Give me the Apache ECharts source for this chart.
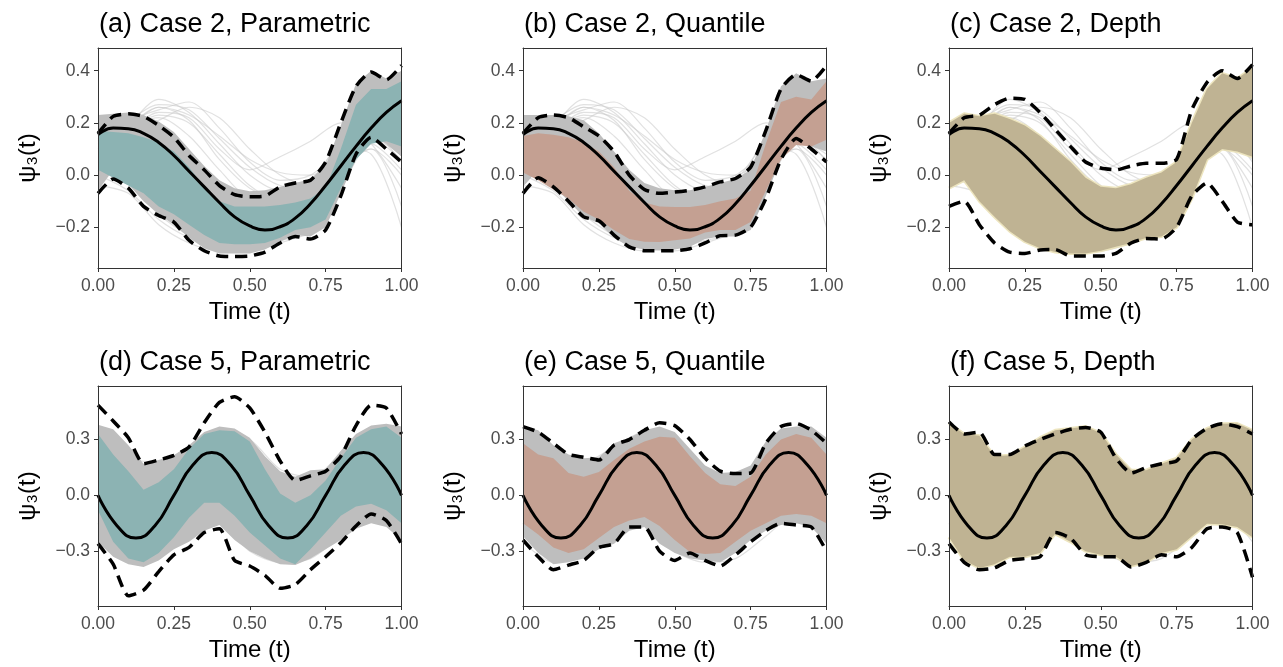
<!DOCTYPE html>
<html><head><meta charset="utf-8">
<script src="https://cdn.jsdelivr.net/npm/echarts@6/dist/echarts.min.js"></script>
<style>html,body{margin:0;padding:0;background:#fff}#c{width:1283px;height:667px}</style>
</head><body><div id="c"></div>
<script>
// ---------- shared grids / ticks ----------
const T21 = [0,0.05,0.1,0.15,0.2,0.25,0.3,0.35,0.4,0.45,0.5,0.55,0.6,0.65,0.7,0.75,0.8,0.85,0.9,0.95,1];
const T11 = [0,0.1,0.2,0.3,0.4,0.5,0.6,0.7,0.8,0.9,1];
const T17 = [0,0.0625,0.125,0.1875,0.25,0.3125,0.375,0.4375,0.5,0.5625,0.625,0.6875,0.75,0.8125,0.875,0.9375,1];
const xTicks = [0,0.25,0.5,0.75,1];
const yTicksCase2 = [-0.2,0,0.2,0.4];
const yTicksCase5 = [-0.3,0,0.3];
const titles = ['(a) Case 2, Parametric','(b) Case 2, Quantile','(c) Case 2, Depth','(d) Case 5, Parametric','(e) Case 5, Quantile','(f) Case 5, Depth'];

// ---------- Case 2 : mean and sample curves ----------
const meanCase2 = [0.155,0.18,0.178,0.16,0.125,0.075,0.015,-0.045,-0.105,-0.16,-0.195,-0.21,-0.198,-0.165,-0.11,-0.04,0.035,0.11,0.18,0.24,0.285];
const case2Curve1 = [0.17,0.20,0.29,0.24,0.12,0.00,-0.06,-0.04,0.06,0.18,0.24];
const case2Curve2 = [0.15,0.21,0.25,0.28,0.18,0.05,-0.02,0.00,0.10,0.22,0.30];
const case2Curve3 = [0.12,0.17,0.24,0.22,0.10,0.02,0.07,0.13,0.20,0.12,-0.05];
const case2Curve4 = [0.16,0.19,0.22,0.15,0.02,-0.08,-0.08,-0.02,0.10,0.08,-0.20];
const case2Curve5 = [-0.04,-0.07,-0.19,-0.26,-0.29,-0.28,-0.25,-0.22,-0.05,0.12,0.02];
const case2Curve6 = [0.02,-0.03,-0.15,-0.23,-0.27,-0.29,-0.26,-0.21,-0.02,0.14,0.06];
const case2Curve7 = [0.18,0.19,0.26,0.21,0.06,-0.05,-0.09,-0.04,0.15,0.30,0.33];
const case2Curve8 = [0.05,0.01,-0.10,-0.19,-0.25,-0.27,-0.22,-0.14,0.04,0.10,-0.12];
const case2Curve9 = [0.14,0.18,0.23,0.20,0.08,-0.04,-0.10,-0.08,0.02,0.10,0.00];
const case2Curve10 = [0.10,0.16,0.21,0.26,0.22,0.10,0.00,-0.04,0.04,0.15,0.12];
const case2Curve11 = [0.16,0.21,0.27,0.25,0.14,0.03,-0.04,-0.05,0.03,0.14,0.08];
const case2Curve12 = [0.13,0.19,0.26,0.23,0.15,0.06,0.01,0.00,0.08,0.16,0.05];
const case2Curve13 = [0.00,-0.06,-0.17,-0.24,-0.28,-0.27,-0.23,-0.17,0.02,0.15,0.10];

// ---------- Case 5 : mean and sample curves ----------
const meanCase5 = [0,-0.163,-0.23,-0.163,0,0.163,0.23,0.163,0,-0.163,-0.23,-0.163,0,0.163,0.23,0.163,0];
const case5Curve1 = [0.33,0.20,0.18,0.26,0.34,0.30,0.14,0.10,0.22,0.36,0.30];
const case5Curve2 = [-0.25,-0.36,-0.33,-0.22,-0.15,-0.30,-0.36,-0.34,-0.22,-0.10,-0.25];
const case5Curve3 = [0.28,0.15,0.05,0.18,0.30,0.25,0.08,0.02,0.16,0.32,0.22];
const case5Curve4 = [-0.15,-0.34,-0.30,-0.12,-0.08,-0.22,-0.34,-0.30,-0.10,-0.06,-0.20];

// ---------- (a) Case 2, Parametric ----------
const aDashUp = [0.16,0.225,0.235,0.225,0.19,0.145,0.075,0.02,-0.04,-0.075,-0.083,-0.08,-0.045,-0.03,-0.02,0.05,0.2,0.34,0.395,0.365,0.42];
const aDashLo = [-0.07,-0.015,-0.05,-0.12,-0.155,-0.18,-0.25,-0.29,-0.31,-0.312,-0.31,-0.295,-0.26,-0.235,-0.245,-0.21,-0.08,0.08,0.145,0.10,0.05];
const aGrayUp = [0.23,0.235,0.24,0.23,0.205,0.165,0.10,0.035,-0.02,-0.05,-0.062,-0.058,-0.045,-0.03,-0.015,0.035,0.19,0.35,0.40,0.37,0.40];
const aGrayLo = [-0.06,0.02,-0.035,-0.10,-0.15,-0.19,-0.24,-0.28,-0.30,-0.30,-0.30,-0.285,-0.255,-0.23,-0.235,-0.20,-0.07,0.06,0.15,0.12,0.07];
const aBandUp = [0.17,0.165,0.16,0.145,0.125,0.09,0.03,-0.045,-0.10,-0.12,-0.12,-0.12,-0.115,-0.105,-0.09,-0.05,0.10,0.27,0.33,0.33,0.36];
const aBandLo = [0.02,-0.01,-0.04,-0.07,-0.12,-0.15,-0.19,-0.23,-0.26,-0.265,-0.265,-0.26,-0.24,-0.21,-0.20,-0.17,-0.05,0.06,0.12,0.13,0.11];

// ---------- (b) Case 2, Quantile ----------
const bDashUp = [0.16,0.22,0.23,0.22,0.185,0.15,0.09,0.0,-0.055,-0.07,-0.065,-0.058,-0.045,-0.026,-0.013,0.03,0.17,0.33,0.385,0.36,0.42];
const bDashLo = [-0.07,-0.01,-0.045,-0.10,-0.16,-0.175,-0.23,-0.275,-0.29,-0.29,-0.29,-0.282,-0.26,-0.232,-0.23,-0.20,-0.09,0.06,0.14,0.10,0.05];
const bGrayUp = [0.23,0.23,0.23,0.225,0.21,0.16,0.09,0.02,-0.03,-0.05,-0.058,-0.058,-0.045,-0.03,-0.015,0.02,0.17,0.34,0.39,0.36,0.37];
const bGrayLo = [-0.045,0.02,-0.04,-0.10,-0.16,-0.185,-0.24,-0.275,-0.285,-0.288,-0.285,-0.275,-0.245,-0.235,-0.235,-0.21,-0.08,0.06,0.15,0.11,0.09];
const bBandUp = [0.15,0.16,0.155,0.145,0.125,0.09,0.03,-0.06,-0.105,-0.12,-0.122,-0.122,-0.115,-0.10,-0.09,-0.06,0.12,0.28,0.30,0.29,0.36];
const bBandLo = [0.01,-0.02,-0.055,-0.09,-0.14,-0.17,-0.21,-0.245,-0.255,-0.256,-0.25,-0.243,-0.22,-0.21,-0.21,-0.18,-0.06,0.06,0.115,0.11,0.135];

// ---------- (c) Case 2, Depth ----------
const cDashUp = [0.16,0.22,0.23,0.27,0.295,0.29,0.24,0.175,0.11,0.05,0.027,0.02,0.035,0.045,0.045,0.06,0.25,0.355,0.40,0.37,0.423];
const cDashLo = [-0.12,-0.10,-0.19,-0.26,-0.295,-0.30,-0.287,-0.285,-0.31,-0.31,-0.31,-0.30,-0.26,-0.243,-0.245,-0.20,-0.08,-0.03,-0.10,-0.18,-0.19];
const cBandUp = [0.20,0.235,0.225,0.235,0.215,0.19,0.15,0.10,0.05,-0.01,-0.045,-0.05,-0.035,-0.01,0.01,0.05,0.20,0.33,0.39,0.37,0.41];
const cBandLo = [-0.05,-0.02,-0.10,-0.16,-0.215,-0.255,-0.28,-0.295,-0.30,-0.30,-0.29,-0.275,-0.26,-0.24,-0.235,-0.20,-0.09,0.06,0.10,0.09,0.07];

// ---------- (d) Case 5, Parametric ----------
const dDashUp = [0.485,0.40,0.31,0.17,0.19,0.215,0.26,0.39,0.50,0.53,0.47,0.34,0.185,0.08,0.105,0.13,0.21,0.375,0.485,0.47,0.33];
const dDashLo = [-0.26,-0.37,-0.54,-0.51,-0.41,-0.32,-0.28,-0.20,-0.18,-0.35,-0.38,-0.43,-0.50,-0.48,-0.40,-0.33,-0.255,-0.165,-0.10,-0.135,-0.26];
const dGrayUp = [0.38,0.355,0.27,0.17,0.19,0.215,0.27,0.34,0.37,0.36,0.31,0.21,0.13,0.10,0.135,0.14,0.24,0.33,0.375,0.385,0.37];
const dGrayLo = [-0.25,-0.33,-0.37,-0.385,-0.35,-0.29,-0.25,-0.19,-0.16,-0.24,-0.30,-0.34,-0.37,-0.375,-0.34,-0.29,-0.24,-0.18,-0.15,-0.17,-0.24];
const dBandUp = [0.33,0.22,0.13,0.03,0.07,0.14,0.25,0.33,0.35,0.345,0.29,0.14,0.01,-0.04,0.0,0.08,0.20,0.31,0.355,0.37,0.31];
const dBandLo = [-0.08,-0.25,-0.34,-0.36,-0.31,-0.225,-0.12,-0.04,-0.04,-0.11,-0.20,-0.27,-0.34,-0.37,-0.29,-0.20,-0.11,-0.06,-0.045,-0.08,-0.15];

// ---------- (e) Case 5, Quantile ----------
const eDashUp = [0.37,0.34,0.28,0.22,0.205,0.19,0.27,0.30,0.35,0.39,0.375,0.30,0.20,0.13,0.117,0.12,0.28,0.37,0.386,0.35,0.28];
const eDashLo = [-0.24,-0.33,-0.40,-0.375,-0.35,-0.28,-0.26,-0.17,-0.17,-0.30,-0.35,-0.31,-0.35,-0.38,-0.32,-0.25,-0.19,-0.15,-0.16,-0.17,-0.30];
const eGrayUp = [0.37,0.35,0.27,0.22,0.20,0.205,0.28,0.31,0.35,0.37,0.34,0.25,0.16,0.12,0.125,0.16,0.29,0.36,0.37,0.37,0.31];
const eGrayLo = [-0.22,-0.31,-0.37,-0.36,-0.34,-0.29,-0.26,-0.19,-0.17,-0.26,-0.31,-0.34,-0.35,-0.36,-0.31,-0.24,-0.19,-0.16,-0.15,-0.17,-0.26];
const eBandUp = [0.28,0.22,0.20,0.12,0.10,0.125,0.19,0.25,0.29,0.315,0.31,0.21,0.12,0.06,0.05,0.10,0.22,0.30,0.33,0.31,0.22];
const eBandLo = [-0.15,-0.21,-0.28,-0.31,-0.29,-0.23,-0.17,-0.135,-0.117,-0.165,-0.24,-0.305,-0.315,-0.31,-0.25,-0.19,-0.15,-0.11,-0.10,-0.11,-0.15];

// ---------- (f) Case 5, Depth ----------
const fDashUp = [0.395,0.33,0.34,0.22,0.22,0.265,0.30,0.33,0.355,0.365,0.34,0.20,0.12,0.15,0.17,0.185,0.30,0.36,0.385,0.37,0.33];
const fDashLo = [-0.26,-0.36,-0.40,-0.39,-0.35,-0.34,-0.33,-0.20,-0.23,-0.32,-0.33,-0.33,-0.385,-0.36,-0.32,-0.33,-0.28,-0.18,-0.17,-0.20,-0.44];
const fBandUp = [0.386,0.33,0.32,0.21,0.215,0.26,0.31,0.35,0.36,0.37,0.335,0.22,0.135,0.135,0.17,0.20,0.30,0.36,0.385,0.386,0.35];
const fBandLo = [-0.225,-0.35,-0.39,-0.37,-0.33,-0.33,-0.31,-0.207,-0.25,-0.30,-0.32,-0.33,-0.38,-0.36,-0.31,-0.29,-0.22,-0.153,-0.155,-0.17,-0.225];

// ---------- styling ----------
const FONT = "'Liberation Sans', Arial, Helvetica, sans-serif";
const COL_TEAL = '#8cb3b3', COL_SALMON = '#c4a092', COL_TAN = '#bfb393', COL_GRAYBAND = '#bebebe';
const COL_FRINGE = 'rgba(234,224,180,0.85)';
const case2Curves = [case2Curve1,case2Curve2,case2Curve3,case2Curve4,case2Curve5,case2Curve6,case2Curve7,case2Curve8,case2Curve9,case2Curve10,case2Curve11,case2Curve12,case2Curve13];
const case5Curves = [case5Curve1,case5Curve2,case5Curve3,case5Curve4];

const panels = [
  {mean: meanCase2, meanT: T21, curves: case2Curves, up: aDashUp, lo: aDashLo, gUp: aGrayUp, gLo: aGrayLo, bUp: aBandUp, bLo: aBandLo, col: COL_TEAL, ticks: yTicksCase2, ymin: -0.356, ymax: 0.487},
  {mean: meanCase2, meanT: T21, curves: case2Curves, up: bDashUp, lo: bDashLo, gUp: bGrayUp, gLo: bGrayLo, bUp: bBandUp, bLo: bBandLo, col: COL_SALMON, ticks: yTicksCase2, ymin: -0.356, ymax: 0.487},
  {mean: meanCase2, meanT: T21, curves: case2Curves, up: cDashUp, lo: cDashLo, gUp: null, gLo: null, bUp: cBandUp, bLo: cBandLo, col: COL_TAN, fringe: true, ticks: yTicksCase2, ymin: -0.356, ymax: 0.487},
  {mean: meanCase5, meanT: T17, curves: case5Curves, up: dDashUp, lo: dDashLo, gUp: dGrayUp, gLo: dGrayLo, bUp: dBandUp, bLo: dBandLo, col: COL_TEAL, ticks: yTicksCase5, ymin: -0.595, ymax: 0.588},
  {mean: meanCase5, meanT: T17, curves: case5Curves, up: eDashUp, lo: eDashLo, gUp: eGrayUp, gLo: eGrayLo, bUp: eBandUp, bLo: eBandLo, col: COL_SALMON, ticks: yTicksCase5, ymin: -0.595, ymax: 0.588},
  {mean: meanCase5, meanT: T17, curves: case5Curves, up: fDashUp, lo: fDashLo, gUp: null, gLo: null, bUp: fBandUp, bLo: fBandLo, col: COL_TAN, fringe: true, ticks: yTicksCase5, ymin: -0.595, ymax: 0.588}
];

const gridPos = [
  {left: 98, top: 48}, {left: 523, top: 48}, {left: 949, top: 48},
  {left: 98, top: 386}, {left: 523, top: 386}, {left: 949, top: 386}
];
const fmtY = v => (Math.abs(v) < 1e-9 ? '0.0' : v.toFixed(1)).replace('-', '\u2212');

const grids = [], xAxes = [], yAxes = [], series = [], titleList = [];
const lineAxisStyle = {show: true, onZero: false, lineStyle: {color: '#333333', width: 1}};

panels.forEach((p, gi) => {
  grids.push({left: gridPos[gi].left, top: gridPos[gi].top, width: 303.5, height: 220, containLabel: false});
  titleList.push({text: titles[gi], left: gridPos[gi].left - 4, top: gridPos[gi].top - 42,
    textStyle: {fontFamily: FONT, fontSize: 27, fontWeight: 'normal', color: '#000'}});
  xAxes[gi] = {
    gridIndex: gi, type: 'value', min: 0, max: 1, position: 'bottom', z: 10,
    axisLine: lineAxisStyle,
    axisTick: {show: true, length: 4, lineStyle: {color: '#333333'}, customValues: xTicks},
    axisLabel: {customValues: xTicks, formatter: v => v.toFixed(2), color: '#4d4d4d', fontSize: 17.5, fontFamily: FONT, margin: 9},
    splitLine: {show: false},
    name: 'Time (t)', nameLocation: 'middle', nameGap: 32,
    nameTextStyle: {fontFamily: FONT, fontSize: 24, color: '#000'}
  };
  xAxes[6 + gi] = {
    gridIndex: gi, type: 'value', min: 0, max: 1, position: 'top', z: 10,
    axisLine: lineAxisStyle, axisTick: {show: false}, axisLabel: {show: false}, splitLine: {show: false}
  };
  yAxes[gi] = {
    gridIndex: gi, type: 'value', min: p.ymin, max: p.ymax, position: 'left', z: 10,
    axisLine: lineAxisStyle,
    axisTick: {show: true, length: 4, lineStyle: {color: '#333333'}, customValues: p.ticks},
    axisLabel: {customValues: p.ticks, formatter: fmtY, color: '#4d4d4d', fontSize: 17.5, fontFamily: FONT, margin: 8},
    splitLine: {show: false},
    name: 'ψ\u2083(t)', nameLocation: 'middle', nameGap: 58, nameRotate: 90,
    nameTextStyle: {fontFamily: FONT, fontSize: 24, color: '#000'}
  };
  yAxes[6 + gi] = {
    gridIndex: gi, type: 'value', min: p.ymin, max: p.ymax, position: 'right', z: 10,
    axisLine: lineAxisStyle, axisTick: {show: false}, axisLabel: {show: false}, splitLine: {show: false}
  };

  // faint sample curves
  p.curves.forEach(c => series.push({
    type: 'line', xAxisIndex: gi, yAxisIndex: gi, z: 1, silent: true, symbol: 'none', smooth: 0.3,
    data: T11.map((t, i) => [t, c[i]]),
    lineStyle: {color: 'rgba(200,200,200,0.55)', width: 1.2}
  }));

  const band = (up, lo, color, z) => ({
    type: 'custom', xAxisIndex: gi, yAxisIndex: gi, z: z, silent: true, clip: true,
    data: [[0, 0]],
    renderItem: (params, api) => {
      const pts = [];
      for (let i = 0; i < T21.length; i++) pts.push(api.coord([T21[i], up[i]]));
      for (let i = T21.length - 1; i >= 0; i--) pts.push(api.coord([T21[i], lo[i]]));
      return {type: 'polygon', shape: {points: pts}, style: {fill: color}};
    }
  });

  if (p.gUp) series.push(band(p.gUp, p.gLo, COL_GRAYBAND, 2));
  if (p.fringe) {
    [p.bUp, p.bLo].forEach(arr => series.push({
      type: 'line', xAxisIndex: gi, yAxisIndex: gi, z: 2, silent: true, symbol: 'none',
      data: T21.map((t, i) => [t, arr[i]]), lineStyle: {color: COL_FRINGE, width: 3}
    }));
  }
  series.push(band(p.bUp, p.bLo, p.col, 3));

  // mean
  series.push({
    type: 'line', xAxisIndex: gi, yAxisIndex: gi, z: 4, silent: true, symbol: 'none', smooth: true,
    data: p.meanT.map((t, i) => [t, p.mean[i]]),
    lineStyle: {color: '#000', width: 3}
  });
  // dashed bounds
  [p.up, p.lo].forEach(arr => series.push({
    type: 'line', xAxisIndex: gi, yAxisIndex: gi, z: 5, silent: true, symbol: 'none', smooth: 0.2,
    data: T21.map((t, i) => [t, arr[i]]),
    lineStyle: {color: '#000', width: 3.5, type: [12, 7], cap: 'butt'}
  }));
});

const chart = echarts.init(document.getElementById('c'), null, {renderer: 'canvas'});
chart.setOption({
  animation: false,
  backgroundColor: '#ffffff',
  title: titleList,
  grid: grids,
  xAxis: xAxes,
  yAxis: yAxes,
  series: series
});
</script>
</body></html>
